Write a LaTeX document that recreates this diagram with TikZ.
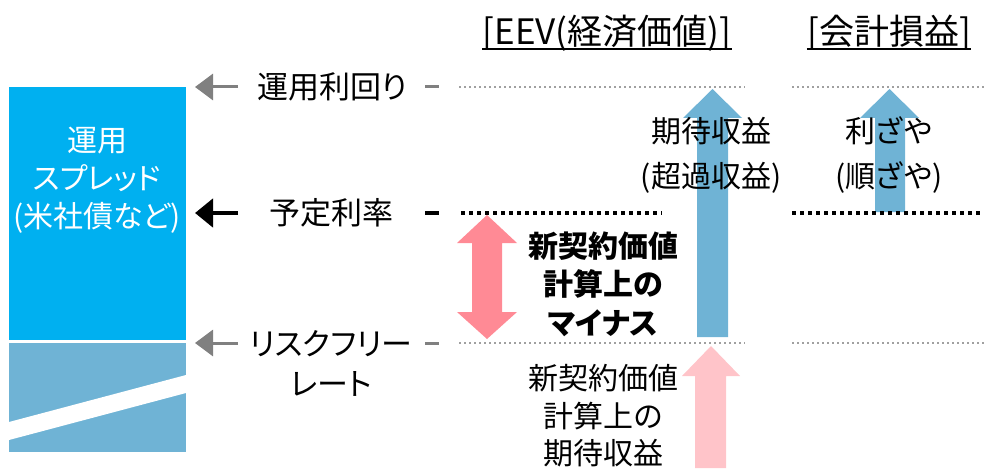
\documentclass[tikz,border=0pt]{standalone}
\usepackage{fontspec}
\setmainfont{Noto Sans CJK JP}[RawFeature=+palt]
\usetikzlibrary{arrows.meta}
\definecolor{spreadblue}{HTML}{00B0F0}
\definecolor{steelblue}{HTML}{6FB3D5}
\definecolor{deeppink}{HTML}{FF8A95}
\definecolor{lightpink}{HTML}{FFC4C9}
\definecolor{guidegray}{HTML}{808080}
\definecolor{dotgray}{HTML}{A0A0A0}
\tikzset{
  lbl/.style={font=\fontsize{31}{40}\selectfont, inner sep=0pt, align=center},
  hdr/.style={font=\fontsize{35}{40}\selectfont, inner sep=0pt},
  arrtxt/.style={font=\fontsize{30}{45}\selectfont, inner sep=0pt, align=center},
  boldtxt/.style={font=\bfseries\fontsize{30}{38.5}\selectfont, inner sep=0pt, align=center},
  normtxt/.style={font=\fontsize{30}{37.5}\selectfont, inner sep=0pt, align=center},
  boxtxt/.style={font=\fontsize{30}{38}\selectfont, inner sep=0pt, align=center, text=white},
  grayarrow/.style={draw=guidegray, line width=3pt, -{Triangle[length=18pt,width=26pt]}},
  blackarrow/.style={draw=black, line width=4.5pt, -{Triangle[length=18pt,width=28pt]}},
  graydash/.style={draw=guidegray, line width=3pt},
  blackdash/.style={draw=black, line width=4.5pt},
  graydots/.style={draw=dotgray, line width=2.2pt, dash pattern=on 2.2pt off 2.8pt},
  blackdots/.style={draw=black, line width=4pt, dash pattern=on 4pt off 4pt},
}
\begin{document}
\begin{tikzpicture}[x=1pt,y=-1pt]
\useasboundingbox (0,0) rectangle (984,468);

% left column
\fill[spreadblue] (9,87) rectangle (186,340);
\fill[steelblue] (9,343) rectangle (186,452);
\fill[white] (9,422) -- (186,375) -- (186,393) -- (9,440) -- cycle;
\node[boxtxt] (boxlabel) at (97,180) {運用\\スプレッド\\(米社債など)};

% level labels
\node[lbl] (yield) at (332,87) {運用利回り};
\node[lbl] (rate) at (331,213) {予定利率};
\node[lbl] (riskfree) at (331,363) {リスクフリー\\レート};

\coordinate (yieldtip) at (195,87);
\coordinate (ratetip) at (195,213);
\coordinate (rftip) at (195,343);
\draw[grayarrow] (238,87) -- (yieldtip);
\draw[blackarrow] (238,213) -- (ratetip);
\draw[grayarrow] (238,343) -- (rftip);

\draw[graydash] (425,87) -- (439,87);
\draw[blackdash] (425,213) -- (439,213);
\draw[graydash] (425,343) -- (439,343);

% headers
\node[hdr] (eevhdr) at (607,33) {[EEV(経済価値)]};
\node[hdr] (acchdr) at (889,33) {[会計損益]};
\draw[line width=1.5pt] (eevhdr.west |- 0,49) -- (eevhdr.east |- 0,49);
\draw[line width=1.5pt] (acchdr.west |- 0,49) -- (acchdr.east |- 0,49);

% arrows
\fill[steelblue] (712.5,89) -- (742,118) -- (728,118) -- (728,337) -- (697,337) -- (697,118) -- (683,118) -- cycle;
\fill[steelblue] (889.5,89) -- (919,118) -- (905,118) -- (905,212) -- (875,212) -- (875,118) -- (860,118) -- cycle;
\fill[lightpink] (711,346) -- (740,376) -- (726,376) -- (726,468) -- (695,468) -- (695,376) -- (682,376) -- cycle;
\fill[deeppink] (487,215) -- (517,243) -- (502,243) -- (502,312) -- (517,312) -- (487,339) -- (457,312) -- (472,312) -- (472,243) -- (457,243) -- cycle;

% guide lines
\draw[graydots] (459,87) -- (745,87);
\draw[graydots] (792,87) -- (984,87);
\draw[blackdots] (461,213) -- (662,213);
\draw[blackdots] (792,213) -- (984,213);
\draw[graydots] (459,343) -- (745,343);
\draw[graydots] (792,343) -- (984,343);

% arrow texts
\node[arrtxt] (excess) at (711,155.5) {期待収益\\(超過収益)};
\node[arrtxt] (margin) at (889,155.5) {利ざや\\(順ざや)};
\node[boldtxt] (minus) at (603,284) {新契約価値\\計算上の\\マイナス};
\node[normtxt] (expected) at (603,416) {新契約価値\\計算上の\\期待収益};
\end{tikzpicture}
\end{document}
